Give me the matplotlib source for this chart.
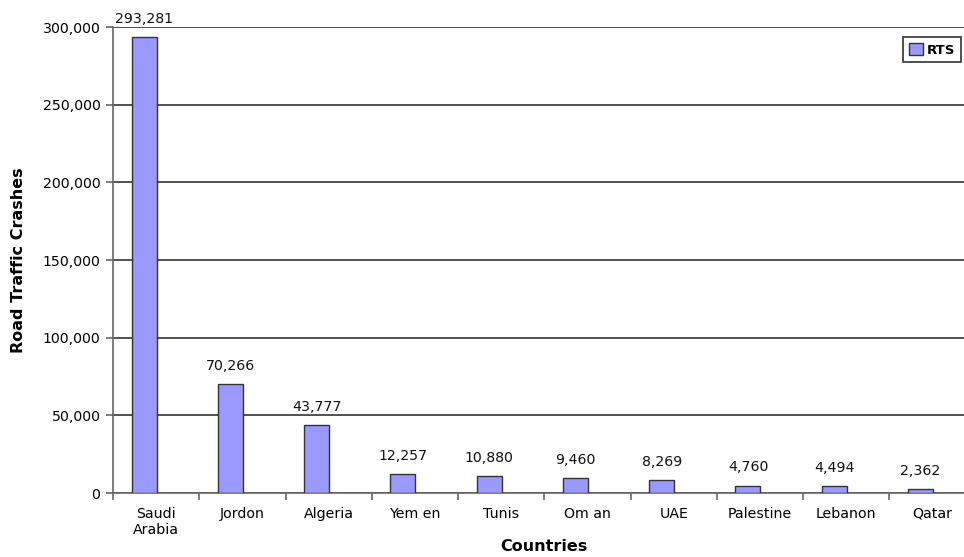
import numpy as np
import matplotlib
matplotlib.use('Agg')
import matplotlib.pyplot as plt
from matplotlib.ticker import FuncFormatter, FixedLocator

countries = ['Saudi\nArabia', 'Jordon', 'Algeria', 'Yem en', 'Tunis',
             'Om an', 'UAE', 'Palestine', 'Lebanon', 'Qatar']
crashes = [293281, 70266, 43777, 12257, 10880, 9460, 8269, 4760, 4494, 2362]
series_name = 'RTS'

plt.rcParams['font.family'] = ['DejaVu Sans']

fig = plt.figure(figsize=(9.64, 5.57), dpi=100)
# right edge of the plot runs off the picture, as in the original
ax = fig.add_axes([0.1172, 0.1149, 0.895, 0.8366])

x = np.arange(len(countries))
bars = ax.bar(x - 0.14, crashes, width=0.29, color='#9999ff',
              edgecolor='#333333', linewidth=1.0, label=series_name, zorder=3)

for xi, v in zip(x, crashes):
    ax.annotate(f'{v:,}', (xi - 0.14, v), xytext=(0, 8), textcoords='offset points',
                ha='center', va='bottom', fontsize=10.2, color='#111111')

ax.set_xlim(-0.5, len(countries) - 0.5)
ax.set_ylim(0, 300000)
ax.set_yticks(np.arange(0, 300001, 50000))
ax.yaxis.set_major_formatter(FuncFormatter(lambda v, p: f'{int(v):,}'))
ax.grid(axis='y', color='#222222', linewidth=1.1, zorder=0)

ax.set_xticks(x)
ax.set_xticklabels(countries, fontsize=10.2, linespacing=1.15)
ax.xaxis.set_minor_locator(FixedLocator(np.arange(-0.5, len(countries), 1.0)))
ax.tick_params(axis='x', which='major', length=0, pad=10)
ax.tick_params(axis='x', which='minor', length=5, color='#666666', width=1.2)
ax.tick_params(axis='y', length=5, color='#666666', width=1.2, labelsize=10.2, pad=4)

for side in ['top', 'right']:
    ax.spines[side].set_visible(False)
ax.spines['left'].set_color('#666666')
ax.spines['bottom'].set_color('#666666')
ax.spines['left'].set_linewidth(1.2)
ax.spines['bottom'].set_linewidth(1.2)

ax.set_ylabel('Road Traffic Crashes', fontsize=11.5, fontweight='bold', labelpad=12)
ax.set_xlabel('Countries', fontsize=11.5, fontweight='bold', labelpad=2)

leg = fig.legend(loc='upper right', bbox_to_anchor=(0.997, 0.934),
                 prop={'size': 9.5, 'weight': 'bold'},
                 fancybox=False, edgecolor='#222222', handlelength=1.1,
                 handleheight=1.1, handletextpad=0.25, borderpad=0.45,
                 borderaxespad=0)
leg.get_frame().set_linewidth(1.4)

fig.savefig('out.png', dpi=100)
